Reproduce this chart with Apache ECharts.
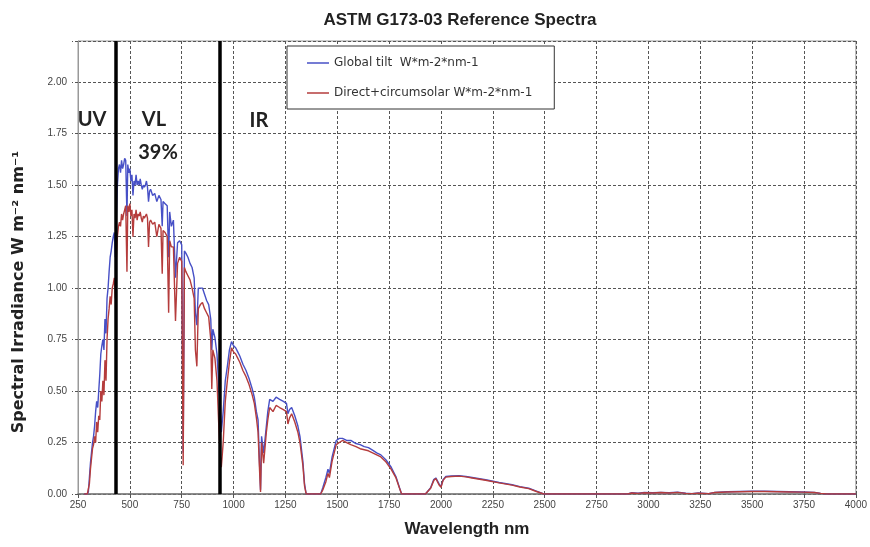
<!DOCTYPE html>
<html>
<head>
<meta charset="utf-8">
<script src="https://cdn.jsdelivr.net/npm/echarts@6/dist/echarts.min.js"></script>
<style>
  html, body { margin: 0; padding: 0; background: #fff; }
  #chart { width: 870px; height: 547px; }
</style>
</head>
<body>
<div id="chart"></div>
<script>
// wavelength (nm), shared by both series
var wavelengths = [
  280, 295, 300, 305, 310, 315, 320, 325, 330, 335, 340, 345, 350, 355, 360, 365, 370, 375, 380, 385,
  390, 395, 400, 405, 410, 415, 420, 425, 430, 435, 440, 445, 450, 455, 460, 465, 470, 475, 480, 486,
  490, 495, 500, 505, 510, 515, 520, 525, 530, 535, 540, 545, 550, 555, 560, 565, 570, 575, 580, 585,
  590, 595, 600, 610, 620, 630, 640, 650, 656, 660, 670, 680, 687, 692, 700, 710, 720, 730, 740, 750,
  757, 763, 770, 780, 790, 800, 810, 816, 823, 830, 840, 850, 860, 870, 880, 890, 895, 900, 910, 920,
  930, 935, 941, 950, 960, 970, 980, 990, 1000, 1010, 1020, 1030, 1045, 1060, 1075, 1090, 1100, 1110, 1118, 1125,
  1130, 1135, 1145, 1158, 1165, 1174, 1190, 1205, 1222, 1240, 1255, 1262, 1270, 1280, 1295, 1310, 1320, 1334, 1342, 1350,
  1420, 1430, 1445, 1455, 1462, 1475, 1485, 1495, 1510, 1525, 1545, 1565, 1590, 1610, 1630, 1650, 1670, 1690, 1710, 1735,
  1760, 1783, 1800, 1810, 1925, 1950, 1965, 1975, 1990, 2000, 2010, 2023, 2050, 2087, 2120, 2150, 2215, 2280, 2343, 2380,
  2423, 2460, 2495, 2900, 2920, 2950, 2980, 3020, 3060, 3100, 3140, 3180, 3210, 3240, 3290, 3320, 3380, 3440, 3500, 3560,
  3620, 3680, 3740, 3800, 3830, 3860, 4000
];

// Global tilt W*m-2*nm-1
var globalTilt = [
  0, 0, 0.01, 0.08, 0.15, 0.20, 0.25, 0.28, 0.33, 0.40, 0.45, 0.42, 0.50, 0.58, 0.68, 0.72, 0.75, 0.70, 0.85, 0.78,
  0.95, 1.00, 1.08, 1.15, 1.18, 1.22, 1.25, 1.27, 1.15, 1.35, 1.50, 1.58, 1.60, 1.56, 1.62, 1.58, 1.60, 1.63, 1.62, 1.35,
  1.60, 1.56, 1.58, 1.52, 1.55, 1.45, 1.52, 1.50, 1.55, 1.50, 1.52, 1.50, 1.53, 1.50, 1.48, 1.50, 1.49, 1.50, 1.52, 1.49,
  1.42, 1.47, 1.48, 1.45, 1.46, 1.42, 1.45, 1.43, 1.30, 1.42, 1.41, 1.40, 1.15, 1.37, 1.30, 1.33, 1.05, 1.22, 1.23, 1.21,
  0.20, 1.18, 1.17, 1.15, 1.12, 1.10, 1.05, 0.88, 0.82, 1.00, 1.00, 1.00, 0.97, 0.94, 0.92, 0.85, 0.70, 0.80, 0.76, 0.68,
  0.50, 0.45, 0.30, 0.40, 0.55, 0.62, 0.70, 0.74, 0.72, 0.71, 0.69, 0.67, 0.63, 0.60, 0.56, 0.51, 0.47, 0.40, 0.36, 0.15,
  0.02, 0.28, 0.20, 0.33, 0.40, 0.46, 0.45, 0.47, 0.46, 0.45, 0.44, 0.39, 0.41, 0.42, 0.38, 0.33, 0.28, 0.16, 0.05, 0,
  0, 0.03, 0.08, 0.12, 0.10, 0.18, 0.22, 0.26, 0.27, 0.27, 0.26, 0.26, 0.245, 0.24, 0.23, 0.225, 0.213, 0.20, 0.19, 0.165,
  0.13, 0.084, 0.03, 0, 0, 0.03, 0.07, 0.078, 0.05, 0.036, 0.07, 0.085, 0.088, 0.089, 0.085, 0.08, 0.069, 0.056, 0.045, 0.036,
  0.028, 0.014, 0, 0, 0.006, 0.004, 0.007, 0.006, 0.008, 0.006, 0.009, 0.004, 0.002, 0.005, 0.002, 0.008, 0.011, 0.012, 0.013, 0.013,
  0.012, 0.011, 0.010, 0.008, 0.003, 0, 0
];

// Direct+circumsolar W*m-2*nm-1
var directCircumsolar = [
  0, 0, 0.005, 0.05, 0.12, 0.17, 0.22, 0.24, 0.28, 0.25, 0.35, 0.30, 0.38, 0.36, 0.50, 0.45, 0.55, 0.48, 0.65, 0.55,
  0.75, 0.85, 0.90, 0.96, 0.92, 1.00, 1.02, 1.05, 0.95, 1.15, 1.25, 1.30, 1.32, 1.30, 1.36, 1.33, 1.36, 1.38, 1.40, 1.08,
  1.40, 1.37, 1.41, 1.35, 1.38, 1.25, 1.36, 1.34, 1.38, 1.33, 1.36, 1.35, 1.37, 1.34, 1.32, 1.35, 1.34, 1.35, 1.36, 1.34,
  1.20, 1.32, 1.33, 1.31, 1.32, 1.25, 1.31, 1.29, 1.07, 1.28, 1.27, 1.25, 0.88, 1.23, 1.20, 1.20, 0.84, 1.12, 1.15, 1.13,
  0.14, 1.10, 1.08, 1.06, 1.04, 1.00, 0.95, 0.70, 0.62, 0.90, 0.92, 0.93, 0.90, 0.88, 0.86, 0.75, 0.51, 0.70, 0.66, 0.55,
  0.30, 0.20, 0.13, 0.25, 0.45, 0.55, 0.64, 0.71, 0.69, 0.68, 0.66, 0.64, 0.60, 0.57, 0.53, 0.48, 0.44, 0.37, 0.30, 0.12,
  0.01, 0.25, 0.15, 0.30, 0.36, 0.42, 0.40, 0.43, 0.42, 0.41, 0.40, 0.34, 0.37, 0.39, 0.35, 0.30, 0.25, 0.14, 0.04, 0,
  0, 0.02, 0.06, 0.10, 0.08, 0.16, 0.20, 0.24, 0.25, 0.26, 0.25, 0.24, 0.23, 0.22, 0.215, 0.21, 0.20, 0.19, 0.18, 0.155,
  0.12, 0.078, 0.028, 0, 0, 0.028, 0.065, 0.075, 0.045, 0.033, 0.066, 0.082, 0.085, 0.087, 0.083, 0.078, 0.067, 0.054, 0.043, 0.034,
  0.026, 0.012, 0, 0, 0.005, 0.003, 0.006, 0.005, 0.007, 0.005, 0.008, 0.003, 0.002, 0.004, 0.002, 0.007, 0.010, 0.011, 0.012, 0.012,
  0.011, 0.010, 0.009, 0.007, 0.003, 0, 0
];

// UV / VL / IR boundaries (nm)
var bandEdges = [434, 931];

var xTicks = { min: 250, max: 4000, step: 250 };
var yTicks = { min: 0, max: 2.2, step: 0.25 };

function pairs(xs, ys) {
  var out = [];
  for (var i = 0; i < xs.length; i++) out.push([xs[i], ys[i]]);
  return out;
}

var myChart = echarts.init(document.getElementById("chart"), null, { renderer: "canvas" });

var axisFont = "Liberation Sans";
var gridLine = { show: true, lineStyle: { color: "#555", width: 1, type: [3, 2] } };
var bandText = { fontFamily: "Lato", fontWeight: "bold", fontSize: 20, fill: "#222", align: "center", verticalAlign: "middle" };

var option = {
  animation: false,
  backgroundColor: "#fff",
  title: {
    text: "ASTM G173-03 Reference Spectra",
    left: 455,
    top: 7,
    textAlign: "center",
    textStyle: { fontFamily: "Liberation Sans", fontWeight: "bold", fontSize: 17, color: "#222" },
  },
  legend: {
    orient: "vertical",
    left: 287,
    top: 46,
    padding: [11, 22, 10, 20],
    itemGap: 18,
    itemWidth: 22,
    itemHeight: 1.5,
    icon: "rect",
    backgroundColor: "#fff",
    borderColor: "#333",
    borderWidth: 1,
    textStyle: { fontFamily: "DejaVu Sans", fontSize: 12, color: "#333" },
    data: ["Global tilt  W*m-2*nm-1", "Direct+circumsolar W*m-2*nm-1"],
  },
  grid: {
    left: 78,
    right: 14,
    top: 41,
    bottom: 53,
    show: true,
    borderColor: "#999",
    borderWidth: 1,
  },
  xAxis: {
    type: "value",
    min: xTicks.min,
    max: xTicks.max,
    interval: xTicks.step,
    name: "Wavelength nm",
    nameLocation: "middle",
    nameGap: 27,
    nameTextStyle: { fontFamily: "Liberation Sans", fontWeight: "bold", fontSize: 17, color: "#222" },
    axisLine: { lineStyle: { color: "#777", width: 1.5 } },
    axisTick: { show: true, length: 4, lineStyle: { color: "#555" } },
    axisLabel: {
      fontFamily: axisFont,
      fontSize: 10,
      color: "#444",
      margin: 6,
      formatter: function (v) { return String(v); },
    },
    splitLine: gridLine,
  },
  yAxis: {
    type: "value",
    min: yTicks.min,
    max: yTicks.max,
    interval: yTicks.step,
    axisLine: { show: true, lineStyle: { color: "#999" } },
    axisTick: { show: true, length: 6, lineStyle: { color: "#555", type: [3, 2] } },
    axisLabel: {
      fontFamily: axisFont,
      fontSize: 10,
      color: "#444",
      margin: 11,
      formatter: function (v) { return v > 2.1 ? "" : v.toFixed(2); },
    },
    splitLine: gridLine,
  },
  graphic: [
    {
      type: "text",
      x: 19,
      y: 292,
      rotation: Math.PI / 2,
      style: {
        text: "Spectral Irradiance W m\u207B\u00B2 nm\u207B\u00B9",
        fontFamily: "DejaVu Sans",
        fontWeight: "bold",
        fontSize: 16,
        fill: "#222",
        align: "center",
        verticalAlign: "middle",
      },
    },
    { type: "text", x: 92, y: 120, style: Object.assign({ text: "UV" }, bandText) },
    { type: "text", x: 154, y: 120, style: Object.assign({ text: "VL" }, bandText) },
    { type: "text", x: 158, y: 153, style: Object.assign({ text: "39%" }, bandText) },
    { type: "text", x: 259, y: 121, style: Object.assign({ text: "IR" }, bandText) },
  ],
  series: [
    {
      name: "Global tilt  W*m-2*nm-1",
      type: "line",
      showSymbol: false,
      color: "#4750c6",
      lineStyle: { width: 1.4, color: "#4750c6" },
      data: pairs(wavelengths, globalTilt),
    },
    {
      name: "Direct+circumsolar W*m-2*nm-1",
      type: "line",
      showSymbol: false,
      color: "#b53c3c",
      lineStyle: { width: 1.4, color: "#b53c3c" },
      data: pairs(wavelengths, directCircumsolar),
      markLine: {
        silent: true,
        symbol: "none",
        label: { show: false },
        lineStyle: { color: "#000", width: 3.5, type: "solid" },
        data: bandEdges.map(function (x) { return { xAxis: x }; }),
      },
    },
  ],
};

myChart.setOption(option);
window.addEventListener("resize", myChart.resize);
</script>
</body>
</html>
